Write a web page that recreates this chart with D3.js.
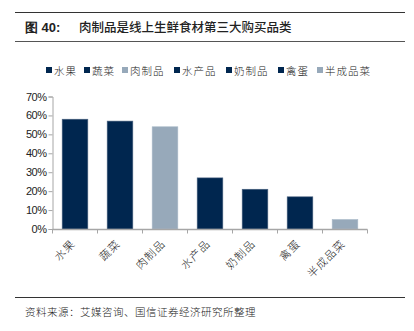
<!DOCTYPE html>
<html><head><meta charset="utf-8">
<script src="https://cdn.jsdelivr.net/npm/d3@7"></script>
<style>body{margin:0;background:#fff}svg{display:block}</style>
</head><body>
<script>
const categories = ["水果","蔬菜","肉制品","水产品","奶制品","禽蛋","半成品菜"];
const values = [58, 57, 54, 27, 21, 17, 5];
const highlight = [false, false, true, false, false, false, true];
const yTicks = [0,10,20,30,40,50,60,70];
const titleLabel = "图 40:";
const titleText = "肉制品是线上生鲜食材第三大购买品类";
const sourceText = "资料来源：艾媒咨询、国信证券经济研究所整理";

const W=414,H=331;
const dark="#00264F", light="#97A9BA";
const svg=d3.select("body").append("svg").attr("width",W).attr("height",H);
const cjk="'Noto Sans CJK SC','Noto Sans',sans-serif";

svg.append("line").attr("x1",15).attr("x2",405).attr("y1",12.5).attr("y2",12.5).attr("stroke","#333").attr("stroke-width",1.2);
svg.append("line").attr("x1",15).attr("x2",405).attr("y1",41.5).attr("y2",41.5).attr("stroke","#555").attr("stroke-width",1);
svg.append("text").attr("x",25).attr("y",32).attr("font-family","Arial,'Liberation Sans',sans-serif").attr("font-weight","bold").attr("font-size",13).attr("fill","#222").text(titleLabel);
svg.append("text").attr("x",79).attr("y",32).attr("font-family",cjk).attr("font-weight",500).attr("font-size",12.5).attr("fill","#222").text(titleText);

// legend
const legX=[46,84,122,174,226,278,317];
const lg=svg.append("g");
categories.forEach((c,i)=>{
  lg.append("rect").attr("x",legX[i]).attr("y",67).attr("width",6).attr("height",6).attr("fill",highlight[i]?light:dark);
  lg.append("text").attr("x",legX[i]+8).attr("y",74.5).attr("font-family",cjk).attr("font-size",10.5).attr("font-weight",300).attr("fill","#222").attr("letter-spacing","1px").text(c);
});

const x=d3.scaleBand().domain(categories).range([52.5,367.5]).paddingInner(0.43).paddingOuter(0.215);
const y=d3.scaleLinear().domain([0,70]).range([229,96.5]);

svg.selectAll("rect.bar").data(values).join("rect").attr("class","bar")
 .attr("x",(d,i)=>x(categories[i])).attr("width",x.bandwidth())
 .attr("y",d=>y(d)).attr("height",d=>y(0)-y(d))
 .attr("fill",(d,i)=>highlight[i]?light:dark)
 .attr("stroke",(d,i)=>highlight[i]?"#A9B9C8":"#4A6380").attr("stroke-width",0.6);

// y axis
const ya=svg.append("g").attr("transform","translate(52.5,0)").call(d3.axisLeft(y).tickValues(yTicks).tickSize(4).tickFormat(d=>d+"%"));
ya.select(".domain").attr("stroke","#A6A6A6");
ya.selectAll(".tick line").attr("stroke","#A6A6A6");
ya.selectAll("text").attr("font-family","Arial,'Liberation Sans',sans-serif").attr("font-size",11).attr("fill","#222").attr("x",-6).attr("letter-spacing","-0.5px");

// x axis
const step=x.step();
const xa=svg.append("g").attr("transform","translate(0,229.5)");
xa.append("line").attr("x1",52.5).attr("x2",367.5).attr("stroke","#A6A6A6").attr("stroke-width",1.3);
d3.range(categories.length+1).forEach(i=>{
  const xx=52.5+i*step;
  xa.append("line").attr("x1",xx).attr("x2",xx).attr("y1",0).attr("y2",4).attr("stroke","#A6A6A6");
});
categories.forEach((c,i)=>{
  const cx=x(c)+x.bandwidth()/2+1;
  xa.append("text").attr("transform",`translate(${cx},15) rotate(-45)`).attr("text-anchor","end")
   .attr("font-family",cjk).attr("font-size",11).attr("font-weight",300).attr("fill","#222").attr("letter-spacing","1px").text(c);
});

svg.append("line").attr("x1",15).attr("x2",405).attr("y1",297.5).attr("y2",297.5).attr("stroke","#333").attr("stroke-width",1);
svg.append("text").attr("x",25).attr("y",316).attr("font-family",cjk).attr("font-size",10.5).attr("font-weight",300).attr("fill","#222").attr("letter-spacing","0.5px").text(sourceText);
</script>
</body></html>
